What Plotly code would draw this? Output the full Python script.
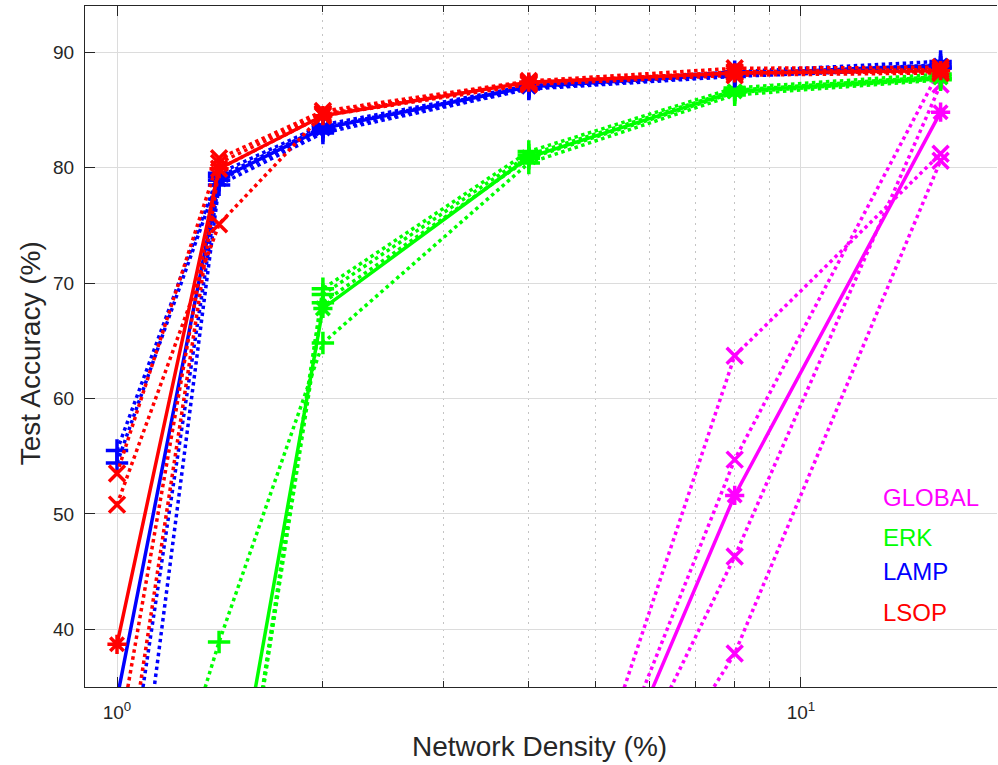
import plotly.graph_objects as go

# Network density (%) values
x_density = [1, 1.41, 2, 4, 8, 16]

# Individual runs (dotted) and mean (solid) test accuracy (%)
global_runs = [
    [10, 10, 10, 10.1, 63.7, 81.2],
    [10, 10, 10, 9.9, 54.7, 88.6],
    [10, 10, 10, 9.7, 46.3, 87.2],
    [10, 10, 10, 9.2, 37.9, 80.6],
]
global_mean = [10, 10, 10, 9.7, 51.6, 84.8]

erk_runs = [
    [10, 38.9, 64.8, 80.4, 86.3, 87.6],
    [10, 10, 69.5, 81.4, 86.9, 88.1],
    [10, 10, 69.0, 81.1, 86.7, 87.9],
    [10, 10, 68.3, 80.8, 86.5, 87.7],
]
erk_mean = [10, 17.2, 67.8, 80.9, 86.6, 87.8]

lamp_runs = [
    [55.5, 79.5, 83.7, 87.1, 88.3, 89.2],
    [54.4, 79.2, 83.5, 87.0, 88.1, 88.9],
    [20.0, 78.9, 83.2, 86.9, 88.0, 88.7],
    [10.0, 78.5, 83.0, 86.8, 87.9, 88.6],
]
lamp_mean = [34.0, 79.0, 83.4, 87.0, 88.1, 88.85]

lsop_runs = [
    [53.5, 80.8, 84.9, 87.5, 88.6, 88.7],
    [50.8, 75.1, 84.6, 87.3, 88.3, 88.5],
    [29.6, 80.4, 84.7, 87.4, 88.2, 88.3],
    [22.0, 79.9, 84.5, 87.2, 88.0, 88.2],
]
lsop_mean = [38.7, 79.9, 84.5, 87.4, 88.2, 88.4]

method_names = ["GLOBAL", "ERK", "LAMP", "LSOP"]
method_colors = ["#FF00FF", "#00FF00", "#0000FF", "#FF0000"]
run_symbols = ["x-thin-open", "cross-thin-open", "cross-thin-open", "x-thin-open"]
all_runs = [global_runs, erk_runs, lamp_runs, lsop_runs]
all_means = [global_mean, erk_mean, lamp_mean, lsop_mean]

fig = go.Figure()
for name, color, sym, runs, mean in zip(method_names, method_colors, run_symbols, all_runs, all_means):
    for r in runs:
        fig.add_trace(go.Scatter(
            x=x_density, y=r, mode="lines+markers",
            line=dict(color=color, width=3.5, dash="3.5px,3.5px"),
            marker=dict(symbol=sym, size=16, line=dict(color=color, width=3.5)),
            showlegend=False, name=name,
        ))
    fig.add_trace(go.Scatter(
        x=x_density, y=mean, mode="lines+markers",
        line=dict(color=color, width=3.5),
        marker=dict(symbol="asterisk-open", size=16, line=dict(color=color, width=3.5)),
        showlegend=False, name=name,
    ))

# Plot area: left 85, right 997, top 6, bottom 687 (px)
label_y = [0.279, 0.219, 0.169, 0.109]
for name, color, yy in zip(method_names, method_colors, label_y):
    fig.add_annotation(x=0.873, y=yy, xref="paper", yref="paper", text=name,
                       showarrow=False, xanchor="left", yanchor="middle",
                       font=dict(size=24, color=color, family="Liberation Sans, Arial"))

axis_color = "#262626"
fig.add_annotation(x=0.4989, y=0, xref="paper", yref="paper", yshift=-59,
                   text="Network Density (%)", showarrow=False,
                   xanchor="center", yanchor="middle",
                   font=dict(size=28, color=axis_color, family="Liberation Sans, Arial"))
fig.add_annotation(x=0, y=0.49, xref="paper", yref="paper", xshift=-55,
                   text="Test Accuracy (%)", showarrow=False, textangle=-90,
                   xanchor="center", yanchor="middle",
                   font=dict(size=28, color=axis_color, family="Liberation Sans, Arial"))

fig.update_layout(
    width=998, height=765,
    margin=dict(l=85, r=1, t=6, b=78, autoexpand=False),
    paper_bgcolor="white", plot_bgcolor="white",
    font=dict(family="Liberation Sans, Arial", color=axis_color),
    xaxis=dict(
        type="log", range=[-0.0468, 1.2866], automargin=False,
        tickvals=[1, 10], ticktext=["10<sup>0</sup>", "10<sup>1</sup>"],
        ticks="inside", ticklen=10, tickwidth=1, tickcolor=axis_color,
        showline=True, linecolor=axis_color, linewidth=1, mirror="ticks",
        showgrid=True, gridcolor="#dcdcdc", gridwidth=1,
        zeroline=False,
        tickfont=dict(size=19, color=axis_color),
        ticklabelstandoff=8,
        minor=dict(tickvals=[2, 3, 4, 5, 6, 7, 8, 9, 20], ticks="inside", ticklen=6,
                   tickcolor=axis_color, showgrid=True, gridcolor="#c4c4c4",
                   griddash="2px,5px", gridwidth=1),
    ),
    yaxis=dict(
        range=[35, 94], tickvals=[40, 50, 60, 70, 80, 90], automargin=False,
        ticks="inside", ticklen=10, tickwidth=1, tickcolor=axis_color,
        showline=True, linecolor=axis_color, linewidth=1, mirror=False,
        showgrid=True, gridcolor="#dcdcdc", gridwidth=1,
        zeroline=False,
        tickfont=dict(size=19, color=axis_color),
        ticklabelstandoff=6,
    ),
)

fig.write_html("out.html", config={"displayModeBar": False},
               post_script="document.body.style.margin='0px';")
